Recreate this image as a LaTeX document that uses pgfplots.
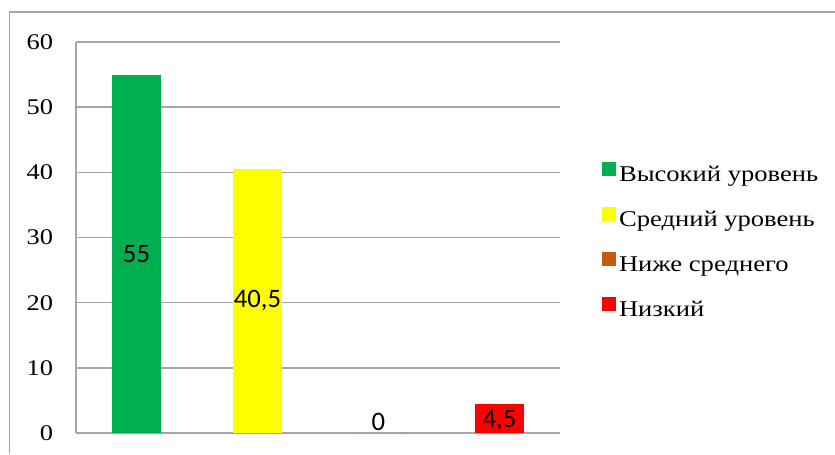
\documentclass[border=0pt]{standalone}
\usepackage{fontspec}
\setmainfont{Liberation Serif}[FakeStretch=1.18]
\newfontfamily\carlito{Carlito}
\usepackage{pgfplots}
\pgfplotsset{compat=1.18}
\definecolor{cgreen}{HTML}{00B050}
\definecolor{cyellow}{HTML}{FFFF00}
\definecolor{cbrown}{HTML}{C55A11}
\definecolor{cred}{HTML}{FF0000}
\definecolor{gridgray}{HTML}{A6A6A6}
\begin{document}
\begin{tikzpicture}
  \begin{axis}[
    at={(0,0)}, anchor=south west,
    scale only axis,
    width=363pt, height=293.25pt,
    xmin=-0.5, xmax=3.5,
    ymin=0, ymax=60,
    ytick={0,10,...,60},
    xtick=\empty,
    axis x line*=bottom,
    axis y line*=left,
    axis line style={-, draw=gridgray, line width=1.1pt},
    ymajorgrids,
    major grid style={draw=gridgray, line width=1.1pt},
    major tick length=0pt,
    /pgf/number format/assume math mode=true,
    yticklabel={\pgfmathprintnumber[assume math mode=true]{\tick}},
    yticklabel style={font=\rmfamily\fontsize{16.8}{18}\selectfont, inner sep=0pt, xshift=-17pt},
    ybar,
    bar width=36.75pt,
    nodes near coords,
    every node near coord/.append style={font=\carlito\fontsize{20}{22}\selectfont,
      anchor=center, /pgf/number format/use comma},
    legend style={at={(1.087,0.49)}, anchor=west, draw=none, fill=none,
      inner sep=0pt, row sep=16pt,
      font=\rmfamily\fontsize{16.9}{18}\selectfont,
      nodes={inner sep=2pt}},
    legend cell align=left,
    legend image code/.code={\fill[#1] (0pt,-1.2pt) rectangle (10.5pt,9.3pt);},
  ]
    \addplot[fill=cgreen, draw=none, bar shift=0pt,
      every node near coord/.append style={yshift=-134.4pt}] coordinates {(0,55)};
    \addplot[fill=cyellow, draw=none, bar shift=0pt,
      every node near coord/.append style={yshift=-98.97pt}] coordinates {(1,40.5)};
    \addplot[fill=cbrown, draw=none, bar shift=0pt,
      every node near coord/.append style={yshift=8.5pt}] coordinates {(2,0)};
    \addplot[fill=cred, draw=none, bar shift=0pt,
      every node near coord/.append style={yshift=-13pt}] coordinates {(3,4.5)};
    \legend{Высокий уровень, Средний уровень, Ниже среднего, Низкий}
  \end{axis}
  \draw[gridgray, line width=0.8pt] (-49.9pt,-15.75pt) -- (-49.9pt,315.75pt) -- (569.25pt,315.75pt);
  \pgfresetboundingbox
  \useasboundingbox (-57pt,-15.75pt) rectangle (569.25pt,324.75pt);
\end{tikzpicture}
\end{document}
